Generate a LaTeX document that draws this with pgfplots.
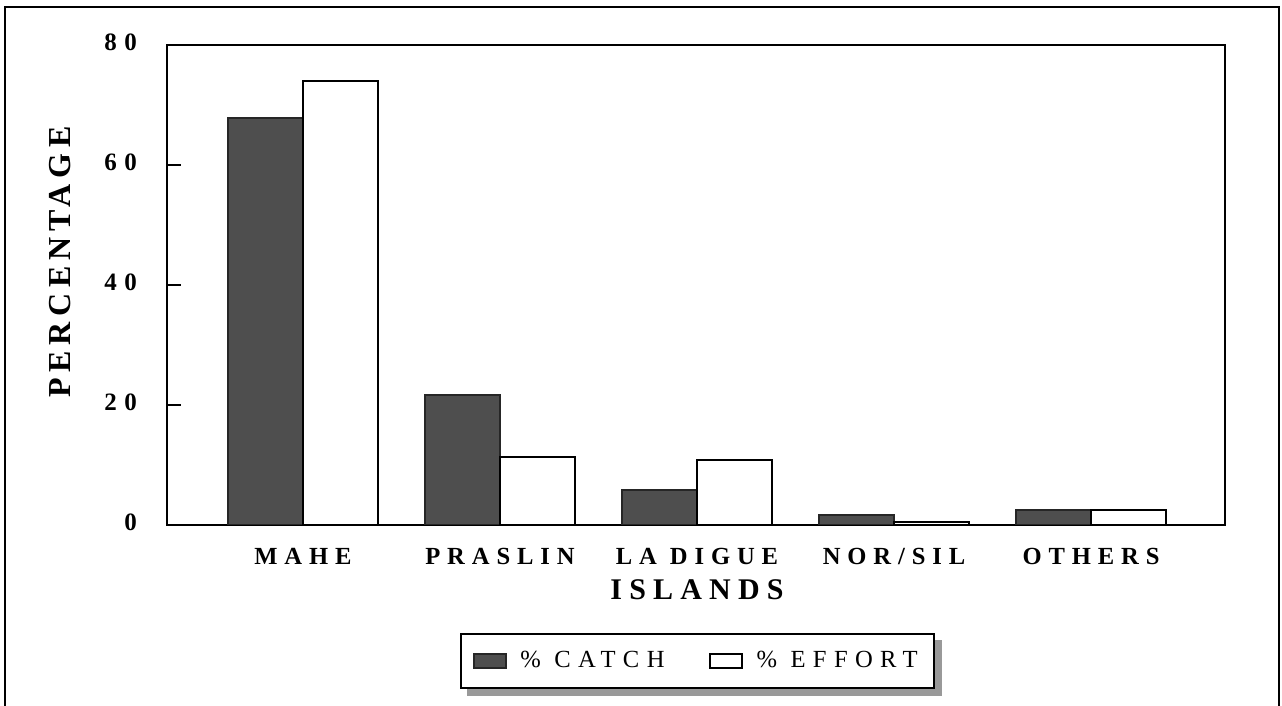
\documentclass[border=0pt]{standalone}
\usepackage{pgfplots}
\pgfplotsset{compat=1.18}
\usepackage{fontspec}
\setmainfont{Liberation Serif}
\newfontfamily\tickfont[LetterSpace=30]{Liberation Serif}
\newfontfamily\catfont[LetterSpace=28]{Liberation Serif}
\newfontfamily\ylabfont[LetterSpace=18]{Liberation Serif}
\newfontfamily\xlabfont[LetterSpace=24]{Liberation Serif}
\newfontfamily\legfont[LetterSpace=30]{Liberation Serif}
\definecolor{catchgray}{HTML}{4E4E4E}
\pgfdeclarelayer{background}
\pgfsetlayers{background,main}
\begin{document}
\begin{tikzpicture}[x=1pt,y=1pt]
\useasboundingbox (0,0) rectangle (641,353);
\draw[line width=1.2pt] (2.5,-20) -- (2.5,349.5) -- (639.5,349.5) -- (639.5,-20);
\begin{axis}[
  at={(83.5pt,90.5pt)}, anchor=south west,
  scale only axis, width=529pt, height=240pt,
  xmin=-0.69, xmax=4.68, ymin=0, ymax=80,
  ybar=0pt, bar width=37.5pt,
  axis line style={line width=1pt},
  xtick={0,1,2,3,4},
  xticklabels={MAHE,PRASLIN,LA DIGUE,NOR/SIL,OTHERS},
  xtick style={draw=none},
  xticklabel style={font=\catfont\bfseries\fontsize{12.3}{14}\selectfont, yshift=-1pt},
  ytick={0,20,40,60,80},
  yticklabels={0,20,40,60,80},
  ytick pos=left,
  major tick length=7pt,
  ytick style={line width=1pt, black},
  yticklabel style={font=\tickfont\bfseries\fontsize{12.5}{14}\selectfont, xshift=-11.5pt, yshift=1.5pt},
  xlabel={ISLANDS},
  xlabel style={font=\xlabfont\bfseries\fontsize{15}{18}\selectfont, at={(axis description cs:0.501,-0.135)}, anchor=center},
  ylabel={PERCENTAGE},
  ylabel style={font=\ylabfont\bfseries\fontsize{16}{18}\selectfont, at={(axis description cs:-0.101,0.548)}, anchor=center, rotate=0},
  legend columns=2,
  legend style={at={(axis description cs:0.501,-0.283)}, anchor=center,
    name=leg,
    draw=black, line width=1pt, fill=white,
    font=\legfont\fontsize{12.3}{14}\selectfont,
    inner xsep=6pt, inner ysep=6.5pt,
    /tikz/every even column/.append style={column sep=20pt}},
  legend image code/.code={\draw[#1, line width=1pt] (0pt,-3.5pt) rectangle (16pt,3.5pt); \path (21pt,0pt);},
]
\addplot[fill=catchgray, draw=black!85, line width=0.8pt] coordinates {(0,67.8) (1,21.7) (2,5.8) (3,1.7) (4,2.5)};
\addplot[fill=white, draw=black, line width=1pt] coordinates {(0,74.0) (1,11.3) (2,10.8) (3,0.5) (4,2.5)};
\legend{\% CATCH, \% EFFORT}
\end{axis}
\begin{pgfonlayer}{background}
\fill[black!40] ([xshift=3.5pt,yshift=-3.5pt]leg.south west) rectangle ([xshift=3.5pt,yshift=-3.5pt]leg.north east);
\end{pgfonlayer}
\end{tikzpicture}
\end{document}
